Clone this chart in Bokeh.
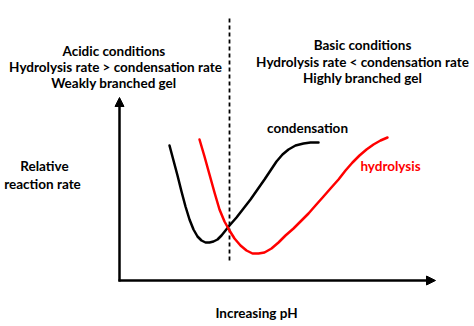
from bokeh.plotting import figure
from bokeh.models import Range1d, Arrow, NormalHead
from bokeh.core.properties import value
from bokeh.embed import file_html
from bokeh.resources import INLINE

# Curves (x = increasing pH, y = screen-down units; lower y = higher rate)
cond_x = [169, 173, 177, 181, 185, 189, 193, 197, 201, 205, 209, 213, 217, 221, 225, 229, 236, 243, 250, 257, 264, 270, 276, 282, 288, 295, 303, 310, 318]
cond_y = [145, 160, 175, 191, 206, 219, 229, 236, 240, 242, 242, 241, 239, 235, 230, 225, 217, 208, 199, 189, 179, 170, 161, 154, 149, 145, 143, 142, 142]
hyd_x = [199, 204, 209, 214, 219, 224, 229, 234, 240, 246, 252, 258, 264, 271, 278, 285, 293, 300, 308, 315, 323, 330, 338, 345, 352, 359, 366, 373, 380, 387]
hyd_y = [139, 156, 174, 192, 209, 221, 230, 238, 245, 250, 253, 253, 252, 248, 242, 235, 228, 221, 213, 205, 196, 188, 179, 170, 162, 155, 149, 144, 140, 137]

divider_x = [229, 229]
divider_y = [18, 260]

left_lines = ["Acidic  conditions", "Hydrolysis rate > condensation rate", "Weakly  branched gel"]
left_x = [115, 115, 115]
left_y = [50, 66, 82]
right_lines = ["Basic conditions", "Hydrolysis rate < condensation rate", "Highly branched gel"]
right_x = [362, 362, 362]
right_y = [44, 61, 77]
ylabel_lines = ["Relative", "reaction rate"]
ylabel_x = [44, 42]
ylabel_y = [165, 183]
xlabel = ["Increasing pH"]
xlabel_x = [256]
xlabel_y = [312]
series_labels = ["condensation", "hydrolysis"]
series_label_x = [307, 390]
series_label_y = [127, 165]
series_colors = ["#000000", "#ff0000"]

axis_origin = (119, 280)
axis_y_end = 97
axis_x_end = 435

W, H = 474, 326
p = figure(width=W, height=H, output_backend="svg", toolbar_location=None,
           x_range=Range1d(0, W), y_range=Range1d(H, 0), min_border=0)
p.axis.visible = False
p.grid.visible = False
p.outline_line_color = None
p.background_fill_color = "white"
p.border_fill_color = "white"

font = value("Lato")

# axes with arrow heads
p.add_layout(Arrow(end=NormalHead(size=9, fill_color="black", line_color="black"),
                   x_start=axis_origin[0], y_start=axis_origin[1] + 1,
                   x_end=axis_origin[0], y_end=axis_y_end,
                   line_width=2.5, line_color="black"))
p.add_layout(Arrow(end=NormalHead(size=9, fill_color="black", line_color="black"),
                   x_start=axis_origin[0] - 1, y_start=axis_origin[1],
                   x_end=axis_x_end, y_end=axis_origin[1],
                   line_width=2.5, line_color="black"))

# divider
p.line(divider_x, divider_y, line_color="black", line_width=1.8, line_dash="4 3")

# curves
p.line(cond_x, cond_y, line_color=series_colors[0], line_width=2.5, line_join="round", line_cap="round")
p.line(hyd_x, hyd_y, line_color=series_colors[1], line_width=2.5, line_join="round", line_cap="round")

def txt(xs, ys, texts, color="#000000", size="13.5px"):
    p.text(x=xs, y=ys, text=texts, text_align="center", text_baseline="middle",
           text_font=font, text_font_style="bold", text_font_size=size, text_color=color)

txt(left_x, left_y, left_lines)
txt(right_x, right_y, right_lines)
txt(ylabel_x, ylabel_y, ylabel_lines)
txt(xlabel_x, xlabel_y, xlabel)
txt([series_label_x[0]], [series_label_y[0]], [series_labels[0]], series_colors[0])
txt([series_label_x[1]], [series_label_y[1]], [series_labels[1]], series_colors[1])

open("out.html", "w").write(file_html(p, INLINE))
